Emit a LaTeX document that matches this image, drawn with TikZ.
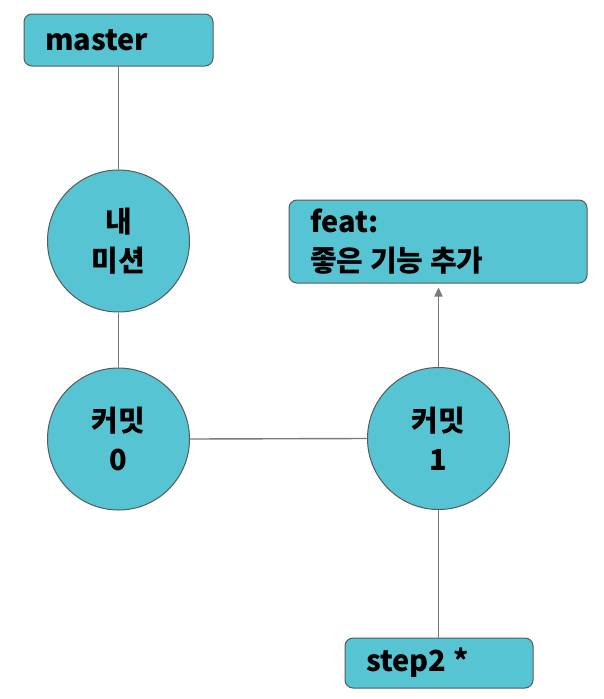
\documentclass[tikz,border=0pt]{standalone}
\usepackage{fontspec}
\setmainfont{Noto Sans CJK KR}
\usepackage{xcolor}
\usepackage{tikz}
\usetikzlibrary{arrows.meta,positioning}

\definecolor{tealfill}{HTML}{56C4D3}
\definecolor{edgegray}{HTML}{555B5E}
\definecolor{linegray}{HTML}{7A7A7A}

\begin{document}
\begin{tikzpicture}[
  x=1pt, y=-1pt,
  font=\fontsize{29}{39}\selectfont\bfseries,
  every node/.style={align=center},
  box/.style={draw=edgegray, fill=tealfill, line width=1pt, rectangle, rounded corners=8pt,
    inner xsep=21pt, align=flush left},
  commit/.style={draw=edgegray, fill=tealfill, line width=1pt, circle, minimum size=142pt, inner sep=0pt},
  link/.style={draw=linegray, line width=1.4pt},
  arr/.style={link, -{Triangle[length=9pt, width=8pt]}, shorten >=4pt}
]
\useasboundingbox (0,0) rectangle (603,699);

% branch labels
\node[box, minimum width=189pt, minimum height=52pt, text width=147pt] (master) at (118.5, 40) {master};
\node[box, minimum width=298pt, minimum height=83pt, text width=256pt] (feat) at (438, 241.5) {feat:\\좋은 기능 추가};
\node[box, minimum width=188pt, minimum height=50pt, text width=146pt] (step2) at (439, 663) {step2 *};

% commits
\node[commit] (mission) at (118.5, 241) {내\\미션};
\node[commit] (c0) at (118.5, 439) {커밋\\0};
\node[commit] (c1) at (438.5, 438.5) {커밋\\1};

% connectors
\draw[link] (master.south) -- (mission.north);
\draw[link] (mission.south) -- (c0.north);
\draw[link] (c0.east) -- (c1.west);
\draw[arr] (c1.north) -- (c1.north |- feat.south);
\draw[link] (c1.south) -- (c1.south |- step2.north);

\end{tikzpicture}
\end{document}
